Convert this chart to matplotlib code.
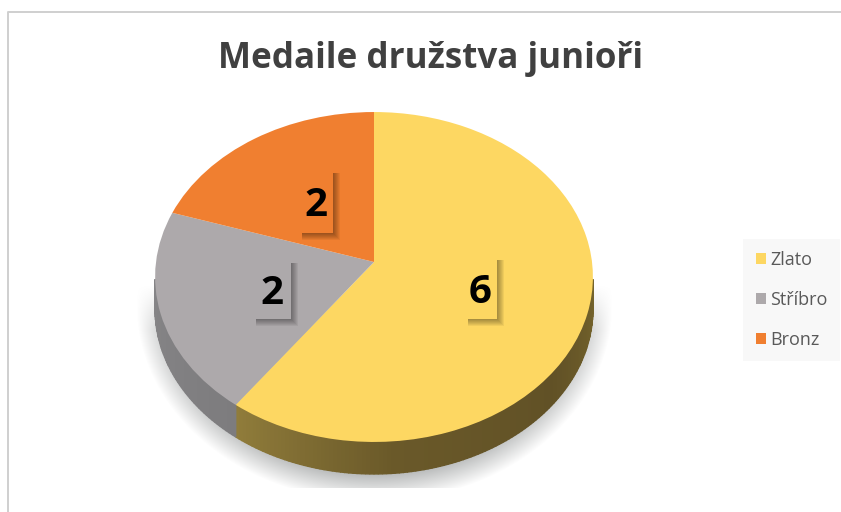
import matplotlib
matplotlib.use('Agg')
import matplotlib.pyplot as plt
from matplotlib.patches import Rectangle
from matplotlib.transforms import Transform
import numpy as np

categories = ["Zlato", "Stříbro", "Bronz"]
medals = [6, 2, 2]
colors = ["#FDD762", "#ADA9AB", "#F07F30"]
title = "Medaile družstva junioři"

# label boxes in image pixels: left, top, right, bottom
label_boxes = [(466, 257, 497, 319), (254, 260, 291, 319), (300, 170, 333, 233)]

W, H = 841, 512
APEX_X, APEX_Y = 374, 262
DEPTH = 32
K = 0.0909


class Tilt(Transform):
    # unit circle -> tilted disc in image pixels
    input_dims = 2
    output_dims = 2

    def transform_non_affine(self, values):
        values = np.asarray(values, dtype=float)
        d = 1 + K * values[:, 1]
        return np.column_stack([APEX_X + 218 * values[:, 0] / d,
                                APEX_Y - 163.6 * values[:, 1] / d])


fig = plt.figure(figsize=(W / 100, H / 100), dpi=100)
ax = fig.add_axes([0, 0, 1, 1])

wedges, _ = ax.pie(medals, colors=colors, startangle=90, counterclock=False)
ax.set_aspect('auto')
ax.set_xlim(0, W)
ax.set_ylim(H, 0)
ax.axis('off')
tilt = Tilt() + ax.transData
for w in wedges:
    w.set_transform(tilt)
    w.set_zorder(5)
    w.set_clip_on(False)

# frame of the screenshot
ax.plot([8.5, 8.5, W], [H, 11.5, 11.5], color="#cfcfcf", lw=1.4, zorder=1)

# soft floor shadow
yy, xx = np.mgrid[0:H, 0:W]
d = np.hypot((xx - 374) / 238, (yy - 305) / 196)
alpha = np.clip((1 - d) / 0.14, 0, 1) * np.clip((yy - 285) / 45, 0, 1) * 0.95
alpha[yy > 487] = 0
shadow = np.zeros((H, W, 4))
shadow[..., :3] = np.array([0xB4, 0xB6, 0xB6]) / 255
shadow[..., 3] = alpha
ax.imshow(shadow, extent=(0, W, H, 0), aspect='auto', zorder=2, interpolation='bilinear')

# side wall, thin slices along the front of the rim only
edges = np.cumsum([0] + medals) / sum(medals) * 360
wall_stops = [
    ([60, 95, 130, 175, 216], ["#8d7a38", "#76652c", "#615126", "#6a5929", "#917d3b"]),
    ([216, 288], ["#7d7c7e", "#8a898b"]),
]
hex2rgb = lambda c: [int(c[i:i + 2], 16) / 255 for i in (1, 3, 5)]
to_xy = Tilt().transform_non_affine
for i, (stops, cols) in enumerate(wall_stops):
    angs = np.arange(max(edges[i], 96), min(edges[i + 1], 264) + 1, 1.0)
    rgb = np.array([hex2rgb(c) for c in cols])
    for a0, a1 in zip(angs[:-1], angs[1:]):
        pts = np.radians([a0, a1])
        rim = to_xy(np.column_stack([np.sin(pts), np.cos(pts)]))
        col = [np.interp(a0, stops, rgb[:, n]) for n in range(3)]
        ax.fill([rim[0, 0], rim[1, 0], rim[1, 0], rim[0, 0]],
                [rim[0, 1], rim[1, 1], rim[1, 1] + DEPTH, rim[0, 1] + DEPTH],
                color=col, lw=1.0, zorder=4)

# data labels with raised boxes
for val, col, (x0, y0, x1, y1) in zip(medals, colors, label_boxes):
    for s in range(7):
        ax.add_patch(Rectangle((x0 + 2, y0 + 3), x1 - x0 - 1 + s, y1 - y0 - 2 + s, fc="black",
                               alpha=0.055, lw=0, zorder=6))
    ax.add_patch(Rectangle((x0, y0), x1 - x0, y1 - y0, fc=col, lw=0, zorder=7))
    ax.text((x0 + x1) / 2 - 1, (y0 + y1) / 2, str(val), ha='center', va='center_baseline',
            fontsize=29, fontweight='bold', family='Open Sans', color="black", zorder=8)

ax.text(431, 59, title, ha='center', va='center', fontsize=25.2, fontweight='bold',
        family='Open Sans', color="#404040", zorder=8)

leg = ax.legend(wedges, categories, loc='center left', bbox_to_anchor=(743, 300),
                bbox_transform=ax.transData, frameon=True, fancybox=False, framealpha=1,
                facecolor="#f8f8f8", edgecolor="none", labelspacing=1.2,
                handlelength=0.56, handleheight=0.56, handletextpad=0.25,
                borderpad=0.7, borderaxespad=0,
                prop={'family': 'Open Sans', 'size': 13})
for t in leg.get_texts():
    t.set_color("#595959")

fig.savefig("out.png", dpi=100)
